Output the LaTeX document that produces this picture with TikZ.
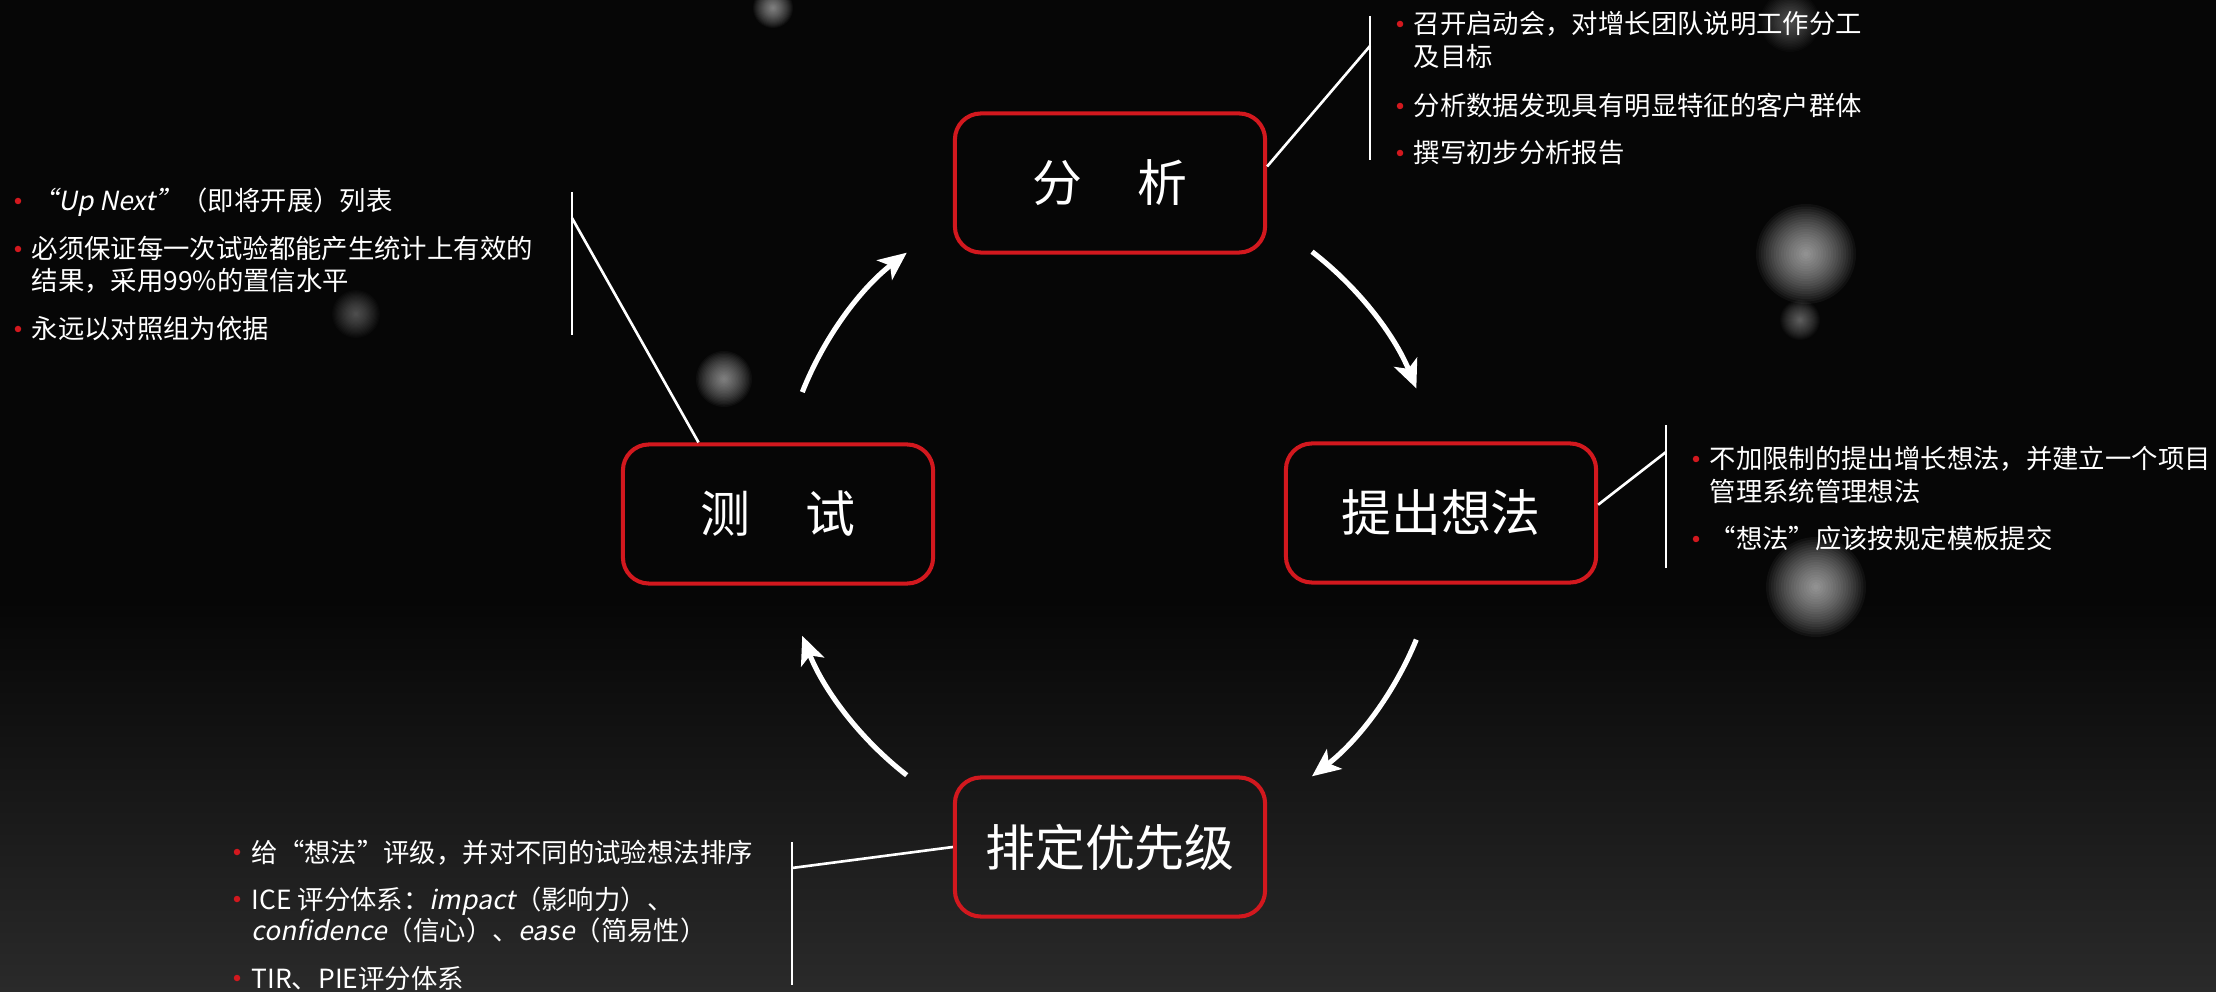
\documentclass[tikz,border=0pt]{standalone}
\usepackage{fontspec}
\setmainfont{Noto Sans CJK SC}[ItalicFont={Noto Sans CJK SC},ItalicFeatures={FakeSlant=0.2}]
\usetikzlibrary{arrows.meta,calc}
\definecolor{boxred}{RGB}{210,24,30}
\definecolor{bg}{RGB}{6,6,6}
\definecolor{floor}{RGB}{42,42,42}
\newcommand\softglow[4]{\foreach \k in {1,...,20}{\fill[white, opacity=#4] (#1,#2) circle [radius=#3*\k/20];}}
\begin{document}
\begin{tikzpicture}[x=0.01cm,y=-0.01cm,
  stage/.style={draw=boxred, line width=1.15pt, rounded corners=0.26cm, minimum width=3.1cm, minimum height=1.39cm, inner sep=0pt, text=white, font=\fontsize{14.2}{17}\selectfont},
  txt/.style={anchor=base west, inner sep=0pt, text=white, font=\fontsize{7.5}{9}\selectfont},
  bdot/.style={circle, fill=boxred, minimum size=0.065cm, inner sep=0pt},
  link/.style={draw=white, line width=0.75pt},
  flow/.style={draw=white, line width=1.45pt, -{Stealth[length=8pt,width=7pt,inset=2pt]}}
]
\useasboundingbox (0,0) rectangle (2216,992);
% background
\fill[bg] (0,0) rectangle (2216,992);
\shade[top color=bg, bottom color=floor] (0,600) rectangle (2216,992);
\softglow{1806}{254}{50}{0.045}
\softglow{1816}{587}{50}{0.045}
\softglow{724}{379}{28}{0.035}
\softglow{1800}{320}{20}{0.025}
\softglow{356}{314}{24}{0.018}
\softglow{773}{8}{20}{0.035}
\softglow{1790}{22}{30}{0.018}

% stages
\node[stage] (fx) at (1110,183) {分\hspace{0.55cm}析};
\node[stage] (ti) at (1441,513) {提出想法};
\node[stage] (ce) at (778,514) {测\hspace{0.55cm}试};
\node[stage] (px) at (1110,847) {排定优先级};

% cycle arrows
\coordinate (a1s) at (802.3,392.1);
\coordinate (a2s) at (1312.0,251.7);
\coordinate (a3s) at (1416.3,639.6);
\coordinate (a4s) at (906.7,775.2);
\draw[flow] (a1s) arc[start angle=158.4, end angle=127.9, radius=3.31cm];
\draw[flow] (a2s) arc[start angle=52.4, end angle=22.3, radius=3.31cm];
\draw[flow] (a3s) arc[start angle=-22.3, end angle=-52.4, radius=3.31cm];
\draw[flow] (a4s) arc[start angle=-127.9, end angle=-158.4, radius=3.31cm];

% callout brackets
\coordinate (v1t) at (1370,16); \coordinate (v1b) at (1370,160); \coordinate (v1m) at (1370,46);
\coordinate (v2t) at (572,192); \coordinate (v2b) at (572,335); \coordinate (v2m) at (572,218);
\coordinate (v3t) at (1666,425); \coordinate (v3b) at (1666,568); \coordinate (v3m) at (1666,452);
\coordinate (v4t) at (792,842); \coordinate (v4b) at (792,985); \coordinate (v4m) at (792,868);
\draw[link] (v1t) -- (v1b);
\draw[link] (fx.6) -- (v1m);
\draw[link] (v2t) -- (v2b);
\draw[link] (ce.138) -- (v2m);
\draw[link] (v3t) -- (v3b);
\draw[link] (ti.3) -- (v3m);
\draw[link] (v4t) -- (v4b);
\draw[link] (px.west) -- (v4m);

% top-right notes
\node[bdot] (d1a) at (1400,24) {};
\node[txt] (n1a) at (1413,34) {召开启动会，对增长团队说明工作分工};
\node[txt] (n1b) at (1413,67) {及目标};
\node[bdot] (d1b) at (1400,106) {};
\node[txt] (n1c) at (1413,116) {分析数据发现具有明显特征的客户群体};
\node[bdot] (d1c) at (1400,153) {};
\node[txt] (n1d) at (1413,163) {撰写初步分析报告};

% left notes
\node[bdot] (d2a) at (18,201) {};
\node[txt] (n2a) at (31,211) {\textit{“Up Next”}（即将开展）列表};
\node[bdot] (d2b) at (18,249) {};
\node[txt] (n2b) at (31,259) {必须保证每一次试验都能产生统计上有效的};
\node[txt] (n2c) at (31,291) {结果，采用99\%的置信水平};
\node[bdot] (d2c) at (18,329) {};
\node[txt] (n2d) at (31,339) {永远以对照组为依据};

% right notes
\node[bdot] (d3a) at (1696,459) {};
\node[txt] (n3a) at (1709,469) {不加限制的提出增长想法，并建立一个项目};
\node[txt] (n3b) at (1709,502) {管理系统管理想法};
\node[bdot] (d3b) at (1696,539) {};
\node[txt] (n3c) at (1709,549) {“想法”应该按规定模板提交};

% bottom notes
\node[bdot] (d4a) at (237,852) {};
\node[txt] (n4a) at (251,862) {给“想法”评级，并对不同的试验想法排序};
\node[bdot] (d4b) at (237,899) {};
\node[txt] (n4b) at (251,909) {ICE 评分体系：\textit{impact}（影响力）、};
\node[txt] (n4c) at (251,940) {\textit{confidence}（信心）、\textit{ease}（简易性）};
\node[bdot] (d4c) at (237,978) {};
\node[txt] (n4d) at (251,988) {TIR、PIE评分体系};
\end{tikzpicture}
\end{document}
